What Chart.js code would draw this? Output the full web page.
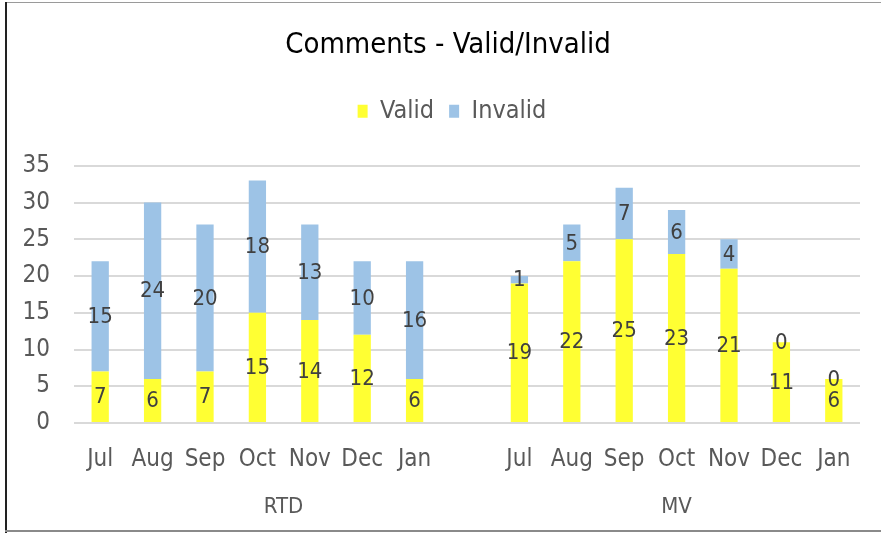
<!DOCTYPE html>
<html>
<head>
<meta charset="utf-8">
<script src="https://cdn.jsdelivr.net/npm/chart.js@4.4.1/dist/chart.umd.min.js"></script>
<style>
  body { margin: 0; background: #fff; }
  #wrap { position: absolute; left: 0; top: 0; width: 881px; height: 533px; }
  .edge { position: absolute; pointer-events: none; }
</style>
</head>
<body>
<div id="wrap"><canvas id="chart" width="881" height="533"></canvas></div>
<div class="edge" style="left:5px; top:2px; width:876px; height:1px; background:#9a9a9a;"></div>
<div class="edge" style="left:5px; top:2px; width:2px; height:531px; background:#222;"></div>
<div class="edge" style="left:5px; top:530px; width:876px; height:2px; background:#8a8a8a;"></div>
<script>
// Data
const months = ['Jul', 'Aug', 'Sep', 'Oct', 'Nov', 'Dec', 'Jan'];
const groups = ['RTD', 'MV'];
const rtdValid = [7, 6, 7, 15, 14, 12, 6];
const rtdInvalid = [15, 24, 20, 18, 13, 10, 16];
const mvValid = [19, 22, 25, 23, 21, 11, 6];
const mvInvalid = [1, 5, 7, 6, 4, 0, 0];

const FONT = "'DejaVu Sans Condensed', 'DejaVu Sans', sans-serif";

// RTD block has an empty slot at its end, then MV
const labels = [...months, '', ...months];
const validData = [...rtdValid, null, ...mvValid];
const invalidData = [...rtdInvalid, null, ...mvInvalid];
const groupRanges = [[0, 7], [8, 14]];

// Value labels in the middle of each segment
const barLabels = {
    id: 'barLabels',
    afterDatasetsDraw(chart) {
        const ctx = chart.ctx;
        ctx.save();
        ctx.font = '22px ' + FONT;
        ctx.fillStyle = '#404040';
        ctx.textAlign = 'center';
        ctx.textBaseline = 'middle';
        chart.data.datasets.forEach((ds, i) => {
            chart.getDatasetMeta(i).data.forEach((bar, j) => {
                const v = ds.data[j];
                if (v === null || v === undefined) return;
                const p = bar.getProps(['x', 'y', 'base'], true);
                ctx.fillText(String(v), p.x, (p.y + p.base) / 2 + 1);
            });
        });
        ctx.restore();
    }
};

// Group names under the month ticks
const groupLabels = {
    id: 'groupLabels',
    afterDraw(chart) {
        const x = chart.scales.x;
        const ctx = chart.ctx;
        ctx.save();
        ctx.font = '22px ' + FONT;
        ctx.fillStyle = '#595959';
        ctx.textAlign = 'center';
        ctx.textBaseline = 'middle';
        groups.forEach((g, i) => {
            const [a, b] = groupRanges[i];
            const cx = (x.getPixelForValue(a) + x.getPixelForValue(b)) / 2;
            ctx.fillText(g, cx, 507);
        });
        ctx.restore();
    }
};

// Extra room under the legend, and title/legend nudged right like the original
const headerLayout = {
    id: 'headerLayout',
    beforeInit(chart) {
        const fit = chart.legend.fit;
        chart.legend.fit = function () {
            fit.bind(chart.legend)();
            this.height += 32;
        };
    },
    afterLayout(chart) {
        chart.titleBlock.left += 36;
        chart.legend.left += 44;
    }
};

new Chart(document.getElementById('chart'), {
    type: 'bar',
    data: {
        labels: labels,
        datasets: [
            { label: 'Valid', data: validData, backgroundColor: '#FFFF33', barPercentage: 0.33, categoryPercentage: 1 },
            { label: 'Invalid', data: invalidData, backgroundColor: '#9DC3E6', barPercentage: 0.33, categoryPercentage: 1 }
        ]
    },
    options: {
        responsive: false,
        animation: false,
        layout: { padding: { left: 0, right: 21, top: 0, bottom: 50 } },
        plugins: {
            title: {
                display: true,
                text: 'Comments - Valid/Invalid',
                color: '#000',
                font: { family: FONT, size: 29, weight: 'normal' },
                padding: { top: 28, bottom: 21 }
            },
            legend: {
                labels: {
                    color: '#595959',
                    font: { family: FONT, size: 25 },
                    boxWidth: 10,
                    boxHeight: 13,
                    padding: 15
                }
            },
            tooltip: { enabled: false }
        },
        scales: {
            x: {
                stacked: true,
                grid: { display: false },
                border: { display: false },
                ticks: { color: '#595959', font: { family: FONT, size: 24 }, padding: 14, autoSkip: false, maxRotation: 0 },
                afterFit: s => { s.height = 60; }
            },
            y: {
                stacked: true,
                min: 0,
                max: 35,
                ticks: { stepSize: 5, color: '#595959', font: { family: FONT, size: 24 }, padding: 24 },
                grid: { color: '#d9d9d9', lineWidth: 2, drawTicks: false },
                border: { display: false },
                afterFit: s => { s.width = 74; }
            }
        }
    },
    plugins: [barLabels, groupLabels, headerLayout]
});
</script>
</body>
</html>
